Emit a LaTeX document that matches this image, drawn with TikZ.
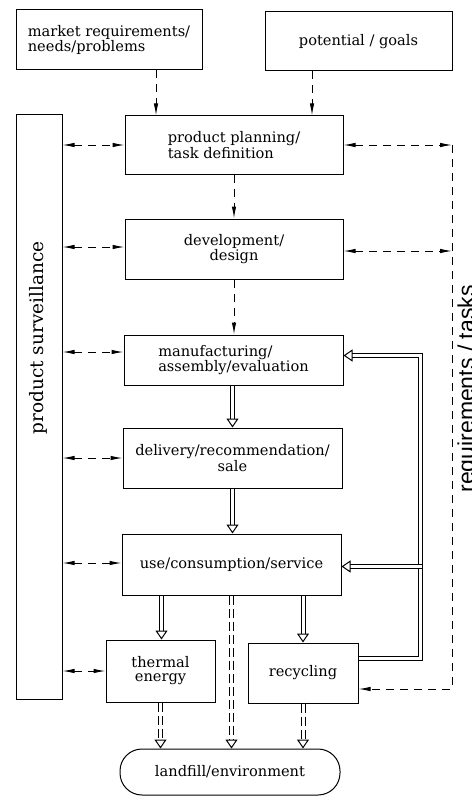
\documentclass[tikz,border=0pt]{standalone}
\usepackage{fontspec}
\setmainfont{DejaVu Serif}
\newfontfamily\sidefont{Liberation Sans}
\usetikzlibrary{arrows.meta,calc}
\begin{document}
\begin{tikzpicture}[x=1pt,y=-1pt,
  box/.style={draw, line width=1pt, inner sep=0pt, font=\fontsize{14.6}{14}\selectfont},
  dsh/.style={line width=1pt, dash pattern=on 8pt off 6pt},
  sarrow/.style={dsh, -{Latex[length=12pt,width=4.5pt]}},
  barrow/.style={dsh, {Latex[length=12pt,width=4.5pt]}-{Latex[length=12pt,width=4.5pt]}},
  dbl/.style={line width=1pt, double distance=3pt, -{Triangle[open,length=9pt,width=12pt]}},
  dbldash/.style={dbl, dash pattern=on 9pt off 4pt},
]
\useasboundingbox (0,0) rectangle (471,797);

% nodes
\node[box, minimum width=186pt, minimum height=60pt, align=left] (market) at (109,40) {market requirements/\\needs/problems};
\node[box, minimum width=187pt, minimum height=59pt] (potential) at (358.5,41.5) {potential / goals};
\node[box, minimum width=218pt, minimum height=58pt, align=left] (plan) at (234,145) {product planning/\\task definition};
\node[box, minimum width=218pt, minimum height=60pt, align=center] (dev) at (234,249) {development/\\design};
\node[box, minimum width=219pt, minimum height=50pt, align=left] (manu) at (233.5,360) {manufacturing/\\assembly/evaluation};
\node[box, minimum width=219pt, minimum height=60pt, align=center] (deliv) at (232.5,458) {delivery/recommendation/\\sale};
\node[box, minimum width=219pt, minimum height=61pt] (use) at (231.5,564.5) {use/consumption/service};
\node[box, minimum width=109pt, minimum height=62pt, align=center] (therm) at (160.5,671) {thermal\\energy};
\node[box, minimum width=110pt, minimum height=60pt] (recyc) at (303,673) {recycling};
\node[box, minimum width=220pt, minimum height=46pt, rounded corners=22pt] (land) at (230,772) {landfill/environment};
\node[box, minimum width=46pt, minimum height=584pt] (surv) at (39,407) {};
\node[rotate=90, inner sep=0pt, font=\fontsize{18.5}{20}\selectfont] (survlabel) at (38,338) {product surveillance};
\node[rotate=90, anchor=base, inner sep=0pt, font=\sidefont\fontsize{23}{26}\selectfont] (req) at (474,389) {requirements / tasks};

% single dashed arrows
\draw[sarrow] ([xshift=47pt]market.south) -- ([xshift=47pt]market.south |- plan.north);
\draw[sarrow] ([xshift=-46.5pt]potential.south) -- ([xshift=-46.5pt]potential.south |- plan.north);
\draw[sarrow] (plan.south) -- (dev.north);
\draw[sarrow] (dev.south) -- (dev.south |- manu.north);

% left bidirectional arrows
\draw[barrow] (plan.west -| surv.east) -- (plan.west);
\draw[barrow] ([yshift=2pt]dev.west -| surv.east) -- ([yshift=2pt]dev.west);
\draw[barrow] ([yshift=8pt]manu.west -| surv.east) -- ([yshift=8pt]manu.west);
\draw[barrow] (deliv.west -| surv.east) -- (deliv.west);
\draw[barrow] ([yshift=1.5pt]use.west -| surv.east) -- ([yshift=1.5pt]use.west);
\draw[barrow] (therm.west -| surv.east) -- (therm.west);

% right requirements loop
\coordinate (rx) at (452,689);
\draw[barrow] (plan.east) -- (plan.east -| rx);
\draw[barrow] ([yshift=-2pt]dev.east) -- ([yshift=-2pt]dev.east -| rx);
\draw[sarrow] (plan.east -| rx) -- (rx) -- (recyc.east |- rx);

% double flow arrows
\draw[dbl] (deliv.north |- manu.south) -- (deliv.north);
\draw[dbl] (deliv.south) -- (deliv.south |- use.north);
\draw[dbl] ([xshift=1pt]therm.north |- use.south) -- ([xshift=1pt]therm.north);
\draw[dbl] (recyc.north |- use.south) -- (recyc.north);
\draw[dbldash] ([xshift=1.5pt]land.north |- use.south) -- ([xshift=1.5pt]land.north);
\draw[dbldash] (therm.south) -- (therm.south |- land.north);
\draw[dbldash] (recyc.south) -- (recyc.south |- land.north);

% feedback from recycling
\coordinate (fb) at (421.5,566.5);
\draw[dbl] ([yshift=15pt]recyc.east) -- ++(61.5,0) |- ([yshift=4.5pt]manu.east);
\draw[dbl] (fb) -- (fb -| use.east);
\end{tikzpicture}
\end{document}
